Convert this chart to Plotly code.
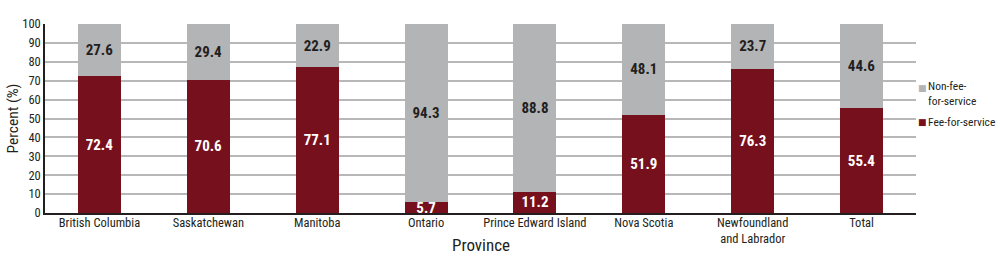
import plotly.graph_objects as go

provinces = ["British Columbia", "Saskatchewan", "Manitoba", "Ontario",
             "Prince Edward Island", "Nova Scotia", "Newfoundland<br>and Labrador", "Total"]
fee_for_service = [72.4, 70.6, 77.1, 5.7, 11.2, 51.9, 76.3, 55.4]
non_fee_for_service = [27.6, 29.4, 22.9, 94.3, 88.8, 48.1, 23.7, 44.6]
series_names = ["Fee-for-service", "Non-fee-<br>for-service"]
y_ticks = list(range(0, 101, 10))
x_title = "Province"
y_title = "Percent (%)"

FONT = "Roboto Condensed, DejaVu Sans Condensed, sans-serif"
RED = "#76101d"
GRAY = "#b3b4b6"
DARK = "#231f20"

fig = go.Figure()
fig.add_trace(go.Bar(
    x=provinces, y=fee_for_service, name=series_names[0],
    marker=dict(color=RED, line=dict(width=0)),
    text=[f"{v:.1f}" for v in fee_for_service], textposition="inside",
    insidetextanchor="middle", constraintext="none",
    textfont=dict(family=FONT, size=15, color="white", weight="bold"),
))
fig.add_trace(go.Bar(
    x=provinces, y=non_fee_for_service, name=series_names[1],
    marker=dict(color=GRAY, line=dict(width=0)),
    text=[f"{v:.1f}" for v in non_fee_for_service], textposition="inside",
    insidetextanchor="middle", constraintext="none",
    textfont=dict(family=FONT, size=15, color=DARK, weight="bold"),
))

# legend drawn as annotations (compact, as in the original)
legend_items = [(series_names[1], GRAY, 0.6635, 0.634),
                (series_names[0], RED, 0.4833, 0.4833)]
for name, color, ysym, ytxt in legend_items:
    fig.add_annotation(xref="paper", yref="paper", x=1.0077, y=ysym,
                       text="■", showarrow=False, xanchor="center", yanchor="middle",
                       font=dict(family="DejaVu Sans", size=9, color=color))
    fig.add_annotation(xref="paper", yref="paper", x=1.0115, y=ytxt,
                       text=name, showarrow=False, xanchor="left", yanchor="middle",
                       align="left", font=dict(family=FONT, size=11.5, color=DARK))

# x-axis title placed just under the first row of tick labels, as in the original
fig.add_annotation(xref="paper", yref="paper", x=0.5, y=-0.171, text=x_title,
                   showarrow=False, xanchor="center", yanchor="middle",
                   font=dict(family=FONT, size=17, color=DARK))

fig.update_layout(
    barmode="stack", bargap=0.605,
    width=1000, height=262,
    margin=dict(l=45, r=84, t=24, b=49),
    paper_bgcolor="white", plot_bgcolor="white",
    font=dict(family=FONT, size=12, color=DARK),
    showlegend=False,
    uniformtext=dict(minsize=15, mode="show"),
)
fig.update_xaxes(
    showline=True, linecolor=DARK, linewidth=1.5,
    ticks="", tickfont=dict(size=12.5), ticklabelstandoff=-3,
    fixedrange=True, automargin=False,
)
fig.update_yaxes(
    title=dict(text=y_title, font=dict(size=15.5), standoff=0),
    range=[0, 100], tickvals=y_ticks, ticks="",
    showline=True, linecolor=DARK, linewidth=1.5,
    showgrid=True, gridcolor="#b8b8b8", gridwidth=1.6,
    tickfont=dict(size=12.5), zeroline=False, fixedrange=True, automargin=True,
)

fig.write_html("out.html")
